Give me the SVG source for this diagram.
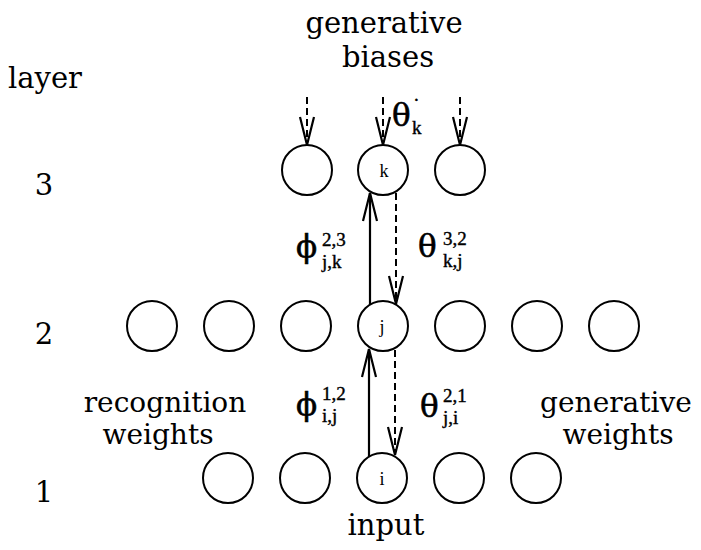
<svg xmlns="http://www.w3.org/2000/svg" width="701" height="550" viewBox="0 0 701 550">
<style>
.node{fill:#fff;stroke:#000;stroke-width:2}
.w{font-family:"DejaVu Serif","Liberation Serif",serif;font-size:29px;fill:#000}
.w2{font-family:"DejaVu Serif","Liberation Serif",serif;font-size:28px;fill:#000;text-anchor:middle}
.nl{font-family:"Liberation Serif",serif;font-size:18px;fill:#000;text-anchor:middle}
.g{font-family:"DejaVu Serif","Liberation Serif",serif;font-size:31px;fill:#000;stroke:#000;stroke-width:0.6}
.s{font-family:"Liberation Serif",serif;font-size:19px;fill:#000;stroke:#000;stroke-width:0.4}
.solid{stroke:#000;stroke-width:2.2;fill:none}
.dash{stroke:#000;stroke-width:2;fill:none;stroke-dasharray:7 4}
</style>
<defs>
<marker id="v" markerUnits="userSpaceOnUse" markerWidth="40" markerHeight="24" refX="0" refY="0" viewBox="-32 -12 40 24" orient="auto" overflow="visible">
<path d="M-28,-7 L0,0 L-28,7" fill="none" stroke="#000" stroke-width="2.2" stroke-dasharray="none"/>
</marker>
</defs>
<g id="labels">
<text class="w" x="384" y="33" text-anchor="middle">generative</text>
<text class="w" x="388" y="67" text-anchor="middle">biases</text>
<text class="w" x="8" y="88">layer</text>
<text class="w" x="44" y="195" text-anchor="middle">3</text>
<text class="w" x="44" y="344" text-anchor="middle">2</text>
<text class="w" x="44" y="502" text-anchor="middle">1</text>
<text class="w2" x="165" y="412">recognition</text>
<text class="w2" x="158" y="444">weights</text>
<text class="w2" x="616" y="412">generative</text>
<text class="w2" x="618" y="444">weights</text>
<text class="w" x="386" y="535" text-anchor="middle">input</text>
</g>
<g id="layer3">
<g id="n3a"><circle class="node" cx="307" cy="170" r="25"/></g>
<g id="n3k"><circle class="node" cx="383" cy="170" r="25"/><text class="nl" x="384" y="177">k</text></g>
<g id="n3c"><circle class="node" cx="460" cy="170" r="25"/></g>
</g>
<g id="layer2">
<g id="n2a"><circle class="node" cx="152" cy="326" r="25"/></g>
<g id="n2b"><circle class="node" cx="229" cy="326" r="25"/></g>
<g id="n2c"><circle class="node" cx="306" cy="326" r="25"/></g>
<g id="n2j"><circle class="node" cx="383" cy="326" r="25"/><text class="nl" x="382" y="333">j</text></g>
<g id="n2e"><circle class="node" cx="460" cy="326" r="25"/></g>
<g id="n2f"><circle class="node" cx="537" cy="326" r="25"/></g>
<g id="n2g"><circle class="node" cx="614" cy="326" r="25"/></g>
</g>
<g id="layer1">
<g id="n1a"><circle class="node" cx="228" cy="478" r="25"/></g>
<g id="n1b"><circle class="node" cx="305" cy="478" r="25"/></g>
<g id="n1i"><circle class="node" cx="382" cy="478" r="25"/><text class="nl" x="382" y="485">i</text></g>
<g id="n1d"><circle class="node" cx="459" cy="478" r="25"/></g>
<g id="n1e"><circle class="node" cx="536" cy="478" r="25"/></g>
</g>
<g id="connectors">
<line class="dash" x1="307" y1="97" x2="307" y2="145" marker-end="url(#v)"/>
<line class="dash" x1="383" y1="97" x2="383" y2="145" marker-end="url(#v)"/>
<line class="dash" x1="460" y1="97" x2="460" y2="145" marker-end="url(#v)"/>
<line class="solid" x1="370" y1="305" x2="370" y2="193" marker-end="url(#v)"/>
<line class="dash" x1="396" y1="193" x2="396" y2="304" marker-end="url(#v)"/>
<line class="solid" x1="369" y1="456" x2="369" y2="349" marker-end="url(#v)"/>
<line class="dash" x1="395" y1="350" x2="395" y2="455" marker-end="url(#v)"/>
</g>
<g id="weights">
<text class="g" x="392" y="126">θ</text>
<text class="s" x="412" y="134">k</text>
<text class="s" x="414" y="101" font-size="14">.</text>
<text class="g" x="296" y="257">ϕ</text>
<text class="s" x="322" y="246">2,3</text>
<text class="s" x="322" y="268">j,k</text>
<text class="g" x="418" y="257">θ</text>
<text class="s" x="443" y="245">3,2</text>
<text class="s" x="443" y="267">k,j</text>
<text class="g" x="296" y="415">ϕ</text>
<text class="s" x="322" y="400">1,2</text>
<text class="s" x="322" y="422">i,j</text>
<text class="g" x="420" y="417">θ</text>
<text class="s" x="443" y="402">2,1</text>
<text class="s" x="443" y="424">j,i</text>
</g>
</svg>
